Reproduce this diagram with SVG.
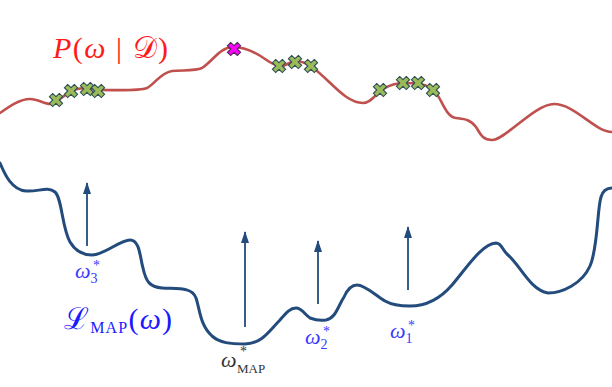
<svg xmlns="http://www.w3.org/2000/svg" width="612" height="387" viewBox="0 0 612 387">
<style>
.post{fill:none;stroke:#c0504d;stroke-width:2.6;stroke-linecap:round;stroke-linejoin:round}
.loss{fill:none;stroke:#234b7c;stroke-width:3;stroke-linecap:round;stroke-linejoin:round}
.arr{fill:none;stroke:#234b7c;stroke-width:1.8}
.xg{fill:#9bbb59;stroke:#2e4f54;stroke-width:1.1}
.xm{fill:#ff00ff;stroke:#4a2a50;stroke-width:1.1}
.math{font-family:"Liberation Serif","DejaVu Serif",serif}
.it{font-style:italic}
</style>
<defs>
<path id="cross" d="M-2.3,-7 L2.3,-7 L2.3,-2.3 L7,-2.3 L7,2.3 L2.3,2.3 L2.3,7 L-2.3,7 L-2.3,2.3 L-7,2.3 L-7,-2.3 L-2.3,-2.3 Z" transform="rotate(45)"/>
<marker id="ah" viewBox="0 0 12 8" refX="11" refY="4" markerWidth="12" markerHeight="8" markerUnits="userSpaceOnUse" orient="auto">
<path d="M0,0 L12,4 L0,8 Z" fill="#234b7c"/>
</marker>
</defs>
<rect width="612" height="387" fill="#fff"/>
<g id="posterior">
<path class="post" d="M0,113 C10,106 20,99 30,99 C38,99 44,104 50,104 C56,104 62,96 72,91 C78,88 82,88 87,88 C92,88 95,90 100,90 C120,90 140,91 147,88 C155,84 160,73 172,71 C185,70 195,71 202,68 C212,62 220,47 233,47 C245,47 255,52 265,59 C272,64 276,66 281,66 C287,66 290,61 296,61 C302,61 306,63 312,67 C330,80 345,103 363,103 C372,103 376,93 383,89 C390,85 395,83 403,83 C410,83 414,83 420,84 C428,85 432,89 436,93 C442,100 446,117 456,118 C464,119 470,119 476,127 C480,133 482,140 492,140 C505,140 535,104 554,104 C575,104 595,132 612,132"/>
</g>
<g id="samples">
<use href="#cross" class="xg" transform="translate(56,100)"/>
<use href="#cross" class="xg" transform="translate(71,91)"/>
<use href="#cross" class="xg" transform="translate(87,89)"/>
<use href="#cross" class="xg" transform="translate(98,91)"/>
<use href="#cross" class="xg" transform="translate(279,66)"/>
<use href="#cross" class="xg" transform="translate(295,62)"/>
<use href="#cross" class="xg" transform="translate(311,66)"/>
<use href="#cross" class="xg" transform="translate(380,90)"/>
<use href="#cross" class="xg" transform="translate(403,83)"/>
<use href="#cross" class="xg" transform="translate(418,83)"/>
<use href="#cross" class="xg" transform="translate(433,90)"/>
<use href="#cross" class="xm" transform="translate(234,49)"/>
</g>
<g id="loss">
<path class="loss" d="M0,163 C5,175 12,190 26,191 C38,192 48,186 55,192 C62,198 62,228 70,242 C76,252 84,255 92,255 C104,255 120,240 130,240 C140,240 140,258 143,268 C146,282 150,287 162,288 C178,289 192,287 196,298 C200,310 200,325 212,336 C220,343 230,344 245,344 C262,344 270,330 280,320 C286,313 290,308 296,308 C302,308 305,315 310,318 C315,320 320,321 326,320 C336,318 338,306 344,297 C348,288 352,285 357,285 C365,285 375,295 385,301 C392,305 400,306 410,306 C425,306 440,299 452,285 C468,266 482,244 496,243 C502,243 502,250 508,255 C520,265 530,290 548,293 C562,293 582,284 590,266 C598,248 597,210 601,197 C603,190 607,188 612,188"/>
</g>
<g id="connectors">
<line class="arr" x1="87" y1="246" x2="87" y2="183" marker-end="url(#ah)"/>
<line class="arr" x1="245" y1="327" x2="245" y2="232" marker-end="url(#ah)"/>
<line class="arr" x1="318" y1="304" x2="318" y2="241" marker-end="url(#ah)"/>
<line class="arr" x1="408" y1="290" x2="408" y2="227" marker-end="url(#ah)"/>
</g>
<g id="labels" class="math">
<text x="53" y="58" font-size="30" fill="#ff1a1a" textLength="115" lengthAdjust="spacing"><tspan class="it">P</tspan>(<tspan class="it">ω</tspan> | 𝒟)</text>
<text x="64" y="329" font-size="30" fill="#1a1aff" textLength="108" lengthAdjust="spacing">ℒ<tspan font-size="16" dy="4">MAP</tspan><tspan dy="-4">(</tspan><tspan class="it">ω</tspan>)</text>
<text x="75" y="278" font-size="22" fill="#3a3aff"><tspan class="it">ω</tspan><tspan font-size="14" dy="5">3</tspan></text>
<text x="93" y="270" font-size="14" fill="#3a3aff">*</text>
<text x="221" y="367" font-size="22" fill="#333" class="it">ω</text>
<text x="237" y="373" font-size="13" fill="#333">MAP</text>
<text x="240" y="356" font-size="14" fill="#333">*</text>
<text x="305" y="344" font-size="22" fill="#3a3aff"><tspan class="it">ω</tspan><tspan font-size="14" dy="5">2</tspan></text>
<text x="323" y="336" font-size="14" fill="#3a3aff">*</text>
<text x="390" y="338" font-size="22" fill="#3a3aff"><tspan class="it">ω</tspan><tspan font-size="14" dy="5">1</tspan></text>
<text x="408" y="330" font-size="14" fill="#3a3aff">*</text>
</g>
</svg>
